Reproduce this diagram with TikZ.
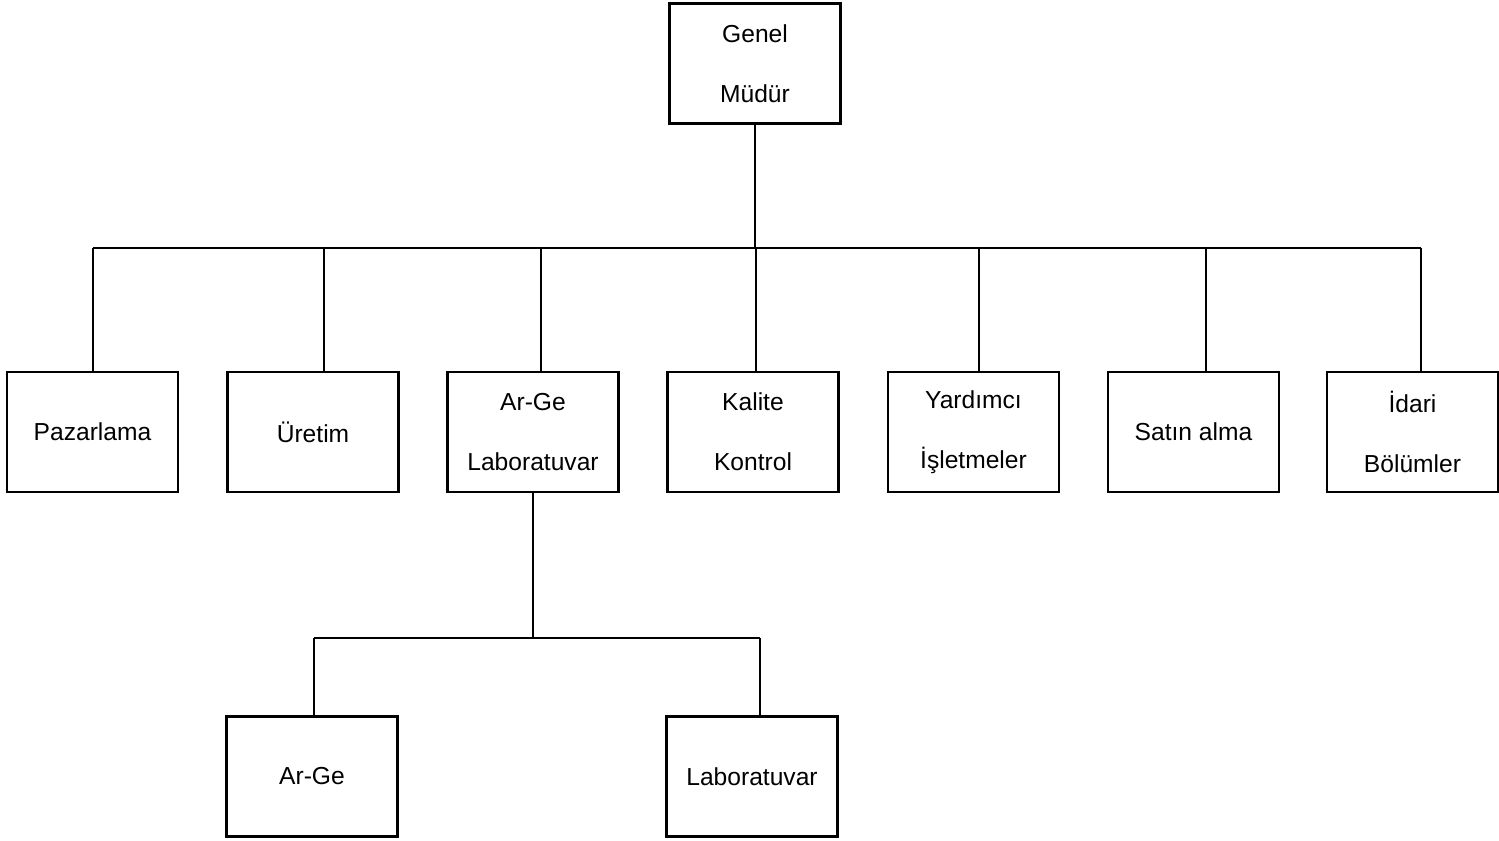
\documentclass[tikz,border=0pt]{standalone}
\usepackage{fontspec}
\setmainfont{Liberation Sans}
\usepackage{tikz}
\usetikzlibrary{positioning}

\begin{document}
\begin{tikzpicture}[x=0.02cm, y=-0.02cm, line width=1.4pt,
        unit/.style={draw, rectangle, align=center, inner sep=0pt,
            minimum width=3.42cm, minimum height=2.4cm,
            font=\fontsize{14}{34}\selectfont}]
    \useasboundingbox (0,0) rectangle (1499,841);

    % top
    \node[unit] (gm) at (755,63.5) {Genel\\Müdür};

    % departments
    \node[unit] (pz) at (92.5,432) {Pazarlama};
    \node[unit] (ur) at (313,432) {Üretim};
    \node[unit] (al) at (533,432) {Ar-Ge\\Laboratuvar};
    \node[unit] (kk) at (753,432) {Kalite\\Kontrol};
    \node[unit] (yi) at (973.5,432) {Yardımcı\\İşletmeler};
    \node[unit] (sa) at (1193.5,432) {Satın alma};
    \node[unit] (ib) at (1412.5,432) {İdari\\Bölümler};

    % under Ar-Ge Laboratuvar
    \node[unit] (ag) at (312,776.5) {Ar-Ge};
    \node[unit] (lb) at (752,776.5) {Laboratuvar};

    % main bus
    \coordinate (bus1) at (93,248);
    \coordinate (bus2) at (324,248);
    \coordinate (bus3) at (541,248);
    \coordinate (bus4) at (756,248);
    \coordinate (bus5) at (979,248);
    \coordinate (bus6) at (1206,248);
    \coordinate (bus7) at (1421,248);
    \draw (gm.south) -- (gm.south |- bus4);
    \draw (bus1) -- (bus7);
    \foreach \b/\n in {bus1/pz, bus2/ur, bus3/al, bus4/kk, bus5/yi, bus6/sa, bus7/ib}
        \draw (\b) -- (\b |- \n.north);

    % sub bus
    \coordinate (sub1) at (314,638);
    \coordinate (sub2) at (760,638);
    \draw (al.south) -- (al.south |- sub1);
    \draw (sub1) -- (sub2);
    \draw (sub1) -- (sub1 |- ag.north);
    \draw (sub2) -- (sub2 |- lb.north);
\end{tikzpicture}
\end{document}
